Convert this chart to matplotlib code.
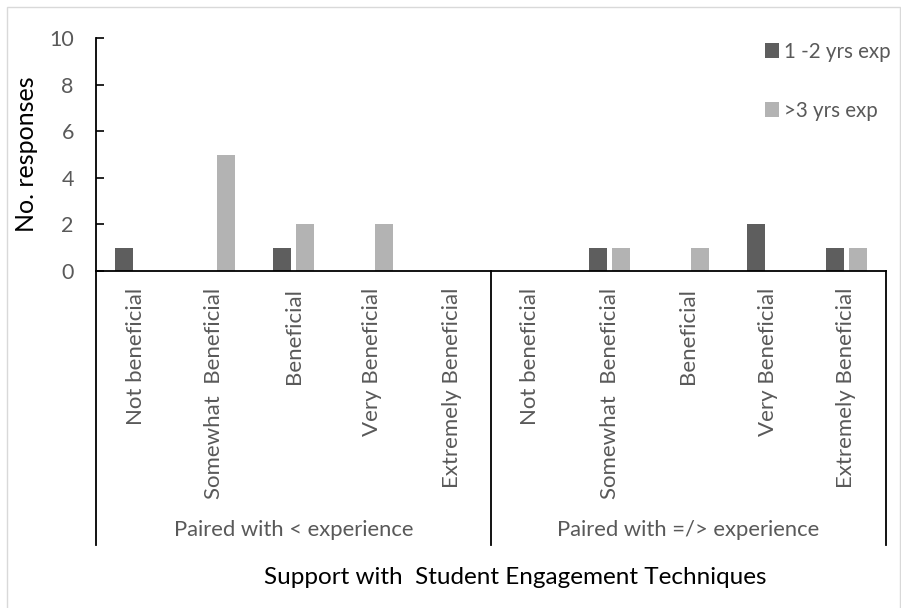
import matplotlib.pyplot as plt
from matplotlib.patches import Rectangle
import numpy as np

plt.rcParams['font.family'] = ['Lato', 'DejaVu Sans']

# Data
groups = ['Paired with < experience', 'Paired with =/> experience']
levels = ['Not beneficial', 'Somewhat  Beneficial', 'Beneficial',
          'Very Beneficial', 'Extremely Beneficial']
exp_1_2 = [1, 0, 1, 0, 0, 0, 1, 0, 2, 1]
exp_3 = [0, 5, 2, 2, 0, 0, 1, 1, 0, 1]
series_names = ['1 -2 yrs exp', '>3 yrs exp']

dark = '#5e5e5e'
light = '#b3b3b3'
txt = '#595959'

cats = levels * len(groups)
x = np.arange(len(cats))

fig = plt.figure(figsize=(9.01, 6.08), dpi=100)
# light chart border
fig.patches.append(Rectangle((7 / 901, -0.01), 893 / 901, 1 - 7 / 608 + 0.01,
                             transform=fig.transFigure, fill=False,
                             edgecolor='#d9d9d9', linewidth=1))

ax = fig.add_axes([96 / 901, 337 / 608, 790 / 901, 233 / 608])
w = 0.23
ax.bar(x - 0.145, exp_1_2, w, color=dark, label=series_names[0])
ax.bar(x + 0.145, exp_3, w, color=light, label=series_names[1])

ax.set_xlim(-0.5, len(cats) - 0.5)
ax.set_ylim(0, 10)
ax.set_yticks(range(0, 11, 2))
ax.tick_params(axis='y', direction='in', length=6, width=1.2, pad=16,
               labelsize=15.5, labelcolor=txt)
ax.set_xticks(x)
ax.set_xticklabels(cats, rotation=90, fontsize=16, color=txt, va='top')
ax.tick_params(axis='x', length=0, pad=12)

for s in ['top', 'right']:
    ax.spines[s].set_visible(False)
ax.spines['left'].set_linewidth(1.3)
ax.spines['bottom'].set_linewidth(1.3)

# multi-level category axis lines
tr = ax.get_xaxis_transform()
low = -274 / 233
for xv in [-0.5, 4.5, 9.5]:
    ax.plot([xv, xv], [0, low], transform=tr, color='black', lw=1.3,
            clip_on=False)
for i, g in enumerate(groups):
    ax.text(i * 5 + 2, -259 / 233, g, transform=tr, ha='center',
            va='center', fontsize=15.8, color=txt)

ax.set_ylabel('No. responses', fontsize=18, color='black')
ax.yaxis.set_label_coords(-58 / 790, 0.5)
fig.text(515 / 901, 1 - 577 / 608, 'Support with  Student Engagement Techniques',
         ha='center', va='center', fontsize=17.5, color='black')

ax.legend(loc='upper left', bbox_to_anchor=(746 / 901, 1 - 23 / 608),
          bbox_transform=fig.transFigure, frameon=False, fontsize=14.8,
          labelcolor=txt, handlelength=0.7, handleheight=0.7,
          handletextpad=0.25, labelspacing=1.9)

fig.savefig('out.png', dpi=100)
